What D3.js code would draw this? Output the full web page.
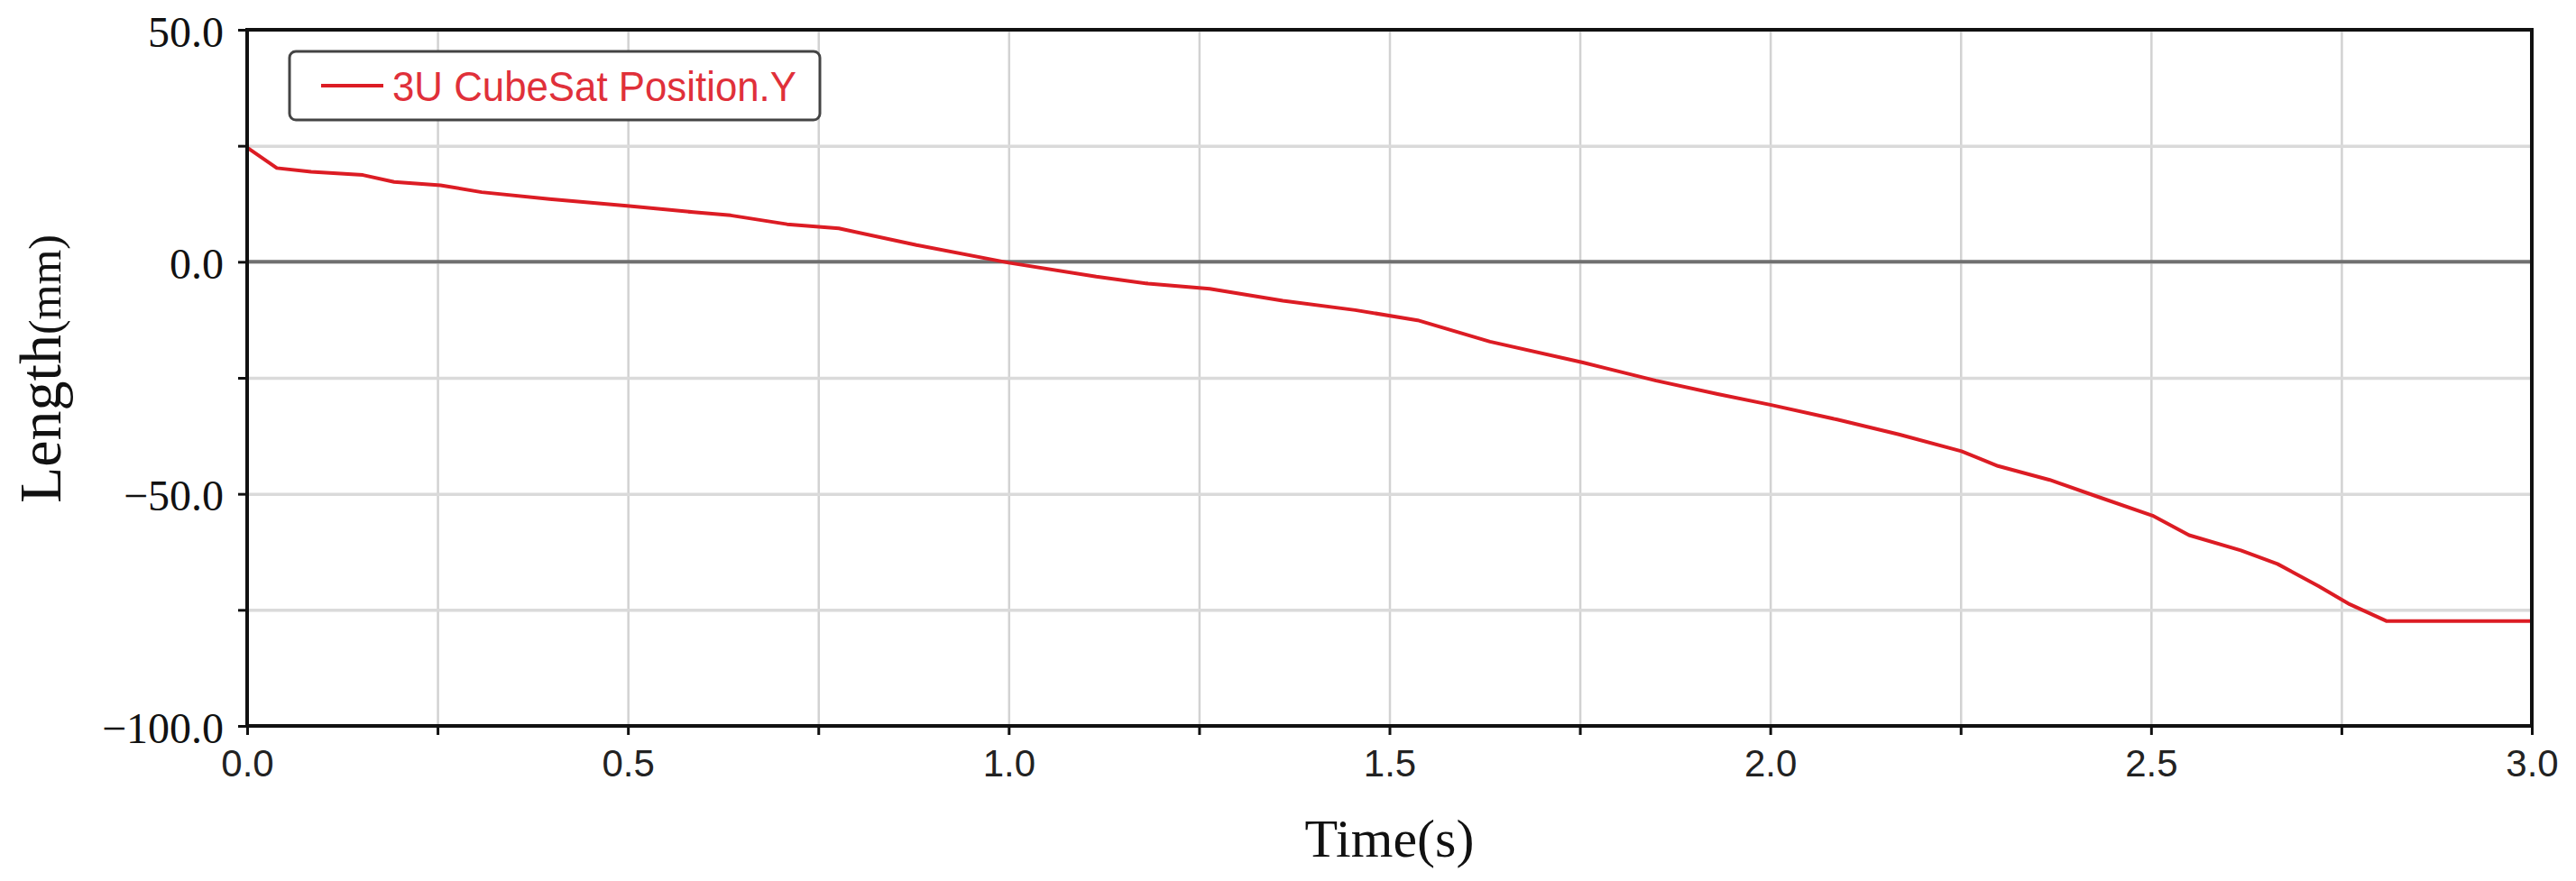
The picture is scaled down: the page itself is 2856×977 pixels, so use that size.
<!DOCTYPE html>
<html>
<head>
<meta charset="utf-8">
<script src="https://cdn.jsdelivr.net/npm/d3@7"></script>
<style>
  body { margin: 0; background: #fff; }
</style>
</head>
<body>
<div id="chart"></div>
<script>
// time (s) and Y position (mm)
const times = [0.0, 0.039, 0.084, 0.152, 0.193, 0.254, 0.308, 0.397, 0.502, 0.586, 0.635, 0.709, 0.777,
    0.879, 1.0, 1.115, 1.183, 1.264, 1.36, 1.455, 1.537, 1.632, 1.754, 1.85, 1.931, 2.0,
    2.088, 2.169, 2.251, 2.299, 2.367, 2.428, 2.502, 2.55, 2.618, 2.666, 2.72, 2.761, 2.809, 3.0];
const positionY = [24.6, 20.2, 19.4, 18.7, 17.2, 16.5, 15.0, 13.5, 12.0, 10.7, 10.0, 8.1, 7.2,
    3.6, -0.2, -3.2, -4.7, -5.8, -8.4, -10.4, -12.6, -17.2, -21.7, -25.6, -28.5, -30.8,
    -34.0, -37.2, -40.8, -44.0, -47.0, -50.5, -54.7, -58.9, -62.2, -65.1, -69.9, -73.8, -77.4, -77.4];
const seriesName = "3U CubeSat Position.Y";
const xTicks = [0, 0.25, 0.5, 0.75, 1, 1.25, 1.5, 1.75, 2, 2.25, 2.5, 2.75, 3];
const xLabels = [0, 0.5, 1, 1.5, 2, 2.5, 3];
const yTicks = [50, 25, 0, -25, -50, -75, -100];
const yLabels = [50, 0, -50, -100];

const WIDTH = 2856, HEIGHT = 977;
const MARGIN = {top: 33, right: 49, bottom: 172, left: 274};
const w = WIDTH - MARGIN.left - MARGIN.right;
const h = HEIGHT - MARGIN.top - MARGIN.bottom;
const RED = "#dc1c24";

const data = times.map((t, i) => ({time: t, pos: positionY[i]}));

const svg = d3.select("#chart")
    .append("svg")
    .attr("width", WIDTH)
    .attr("height", HEIGHT)
    .append("g")
    .attr("transform", "translate(" + MARGIN.left + "," + MARGIN.top + ")");

const x = d3.scaleLinear().domain([0, 3]).range([0, w]);
const y = d3.scaleLinear().domain([-100, 50]).range([h, 0]);
const fmt = d3.format(".1f");

// grid
svg.append("g")
    .attr("transform", "translate(0," + h + ")")
    .call(d3.axisBottom(x).tickValues(xTicks).tickSize(-h).tickFormat(""))
    .call(g => g.select(".domain").remove())
    .call(g => g.selectAll("line").attr("stroke", "#d2d2d2").attr("stroke-width", 2.5));
svg.append("g")
    .call(d3.axisLeft(y).tickValues(yTicks).tickSize(-w).tickFormat(""))
    .call(g => g.select(".domain").remove())
    .call(g => g.selectAll("line").attr("stroke", "#dadada").attr("stroke-width", 3.5));

// zero line
svg.append("line")
    .attr("x1", 0).attr("x2", w)
    .attr("y1", y(0)).attr("y2", y(0))
    .attr("stroke", "#707070")
    .attr("stroke-width", 4);

// series
svg.append("path")
    .datum(data)
    .attr("fill", "none")
    .attr("stroke", RED)
    .attr("stroke-width", 4)
    .attr("stroke-linejoin", "round")
    .attr("d", d3.line().x(d => x(d.time)).y(d => y(d.pos)));

// frame
svg.append("rect")
    .attr("width", w).attr("height", h)
    .attr("fill", "none")
    .attr("stroke", "#111")
    .attr("stroke-width", 4);

// x axis
svg.append("g")
    .attr("transform", "translate(0," + h + ")")
    .call(d3.axisBottom(x).tickValues(xTicks).tickSize(10).tickPadding(16)
        .tickFormat(d => xLabels.includes(d) ? fmt(d) : ""))
    .call(g => g.select(".domain").remove())
    .call(g => g.selectAll("line").attr("stroke", "#111").attr("stroke-width", 3))
    .call(g => g.selectAll("text")
        .attr("font-family", "'Liberation Sans', Arial, sans-serif")
        .attr("font-size", 42)
        .attr("fill", "#222"));

// y axis
svg.append("g")
    .call(d3.axisLeft(y).tickValues(yTicks).tickSize(10).tickPadding(16)
        .tickFormat(d => yLabels.includes(d) ? fmt(d) : ""))
    .call(g => g.select(".domain").remove())
    .call(g => g.selectAll("line").attr("stroke", "#111").attr("stroke-width", 3))
    .call(g => g.selectAll("text")
        .attr("font-family", "'Liberation Serif', 'Times New Roman', serif")
        .attr("font-size", 48)
        .attr("dy", "0.38em")
        .attr("fill", "#111"));

// axis titles
svg.append("text")
    .attr("x", w / 2)
    .attr("y", 950 - MARGIN.top)
    .attr("text-anchor", "middle")
    .attr("font-family", "'Liberation Serif', 'Times New Roman', serif")
    .attr("font-size", 60)
    .attr("fill", "#111")
    .text("Time(s)");

const yTitle = svg.append("text")
    .attr("transform", "translate(" + (67 - MARGIN.left) + "," + (h / 2 - 10) + ") rotate(-90)")
    .attr("text-anchor", "middle")
    .attr("font-family", "'Liberation Serif', 'Times New Roman', serif")
    .attr("fill", "#111");
yTitle.append("tspan").attr("font-size", 66).text("Length");
yTitle.append("tspan").attr("font-size", 50).text("(mm)");

// legend
const legend = svg.append("g").attr("transform", "translate(" + (321 - MARGIN.left) + "," + (57 - MARGIN.top) + ")");
legend.append("rect")
    .attr("width", 588).attr("height", 76)
    .attr("rx", 7)
    .attr("fill", "#fff")
    .attr("stroke", "#444")
    .attr("stroke-width", 3);
legend.append("line")
    .attr("x1", 35).attr("x2", 104)
    .attr("y1", 38).attr("y2", 38)
    .attr("stroke", RED)
    .attr("stroke-width", 4);
legend.append("text")
    .attr("x", 114)
    .attr("y", 55)
    .attr("font-family", "'Liberation Sans', Arial, sans-serif")
    .attr("font-size", 46)
    .attr("textLength", 448)
    .attr("lengthAdjust", "spacingAndGlyphs")
    .attr("fill", "#e0303a")
    .text(seriesName);
</script>
</body>
</html>
